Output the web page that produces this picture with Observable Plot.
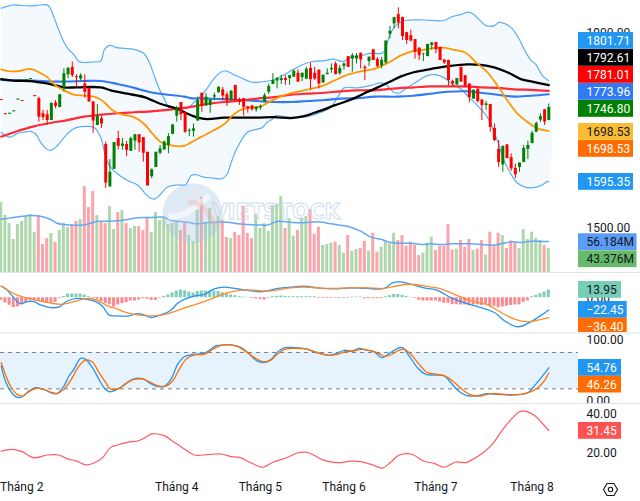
<!DOCTYPE html>
<html lang="vi">
<head>
<meta charset="utf-8">
<script src="https://cdn.jsdelivr.net/npm/d3@7"></script>
<script src="https://cdn.jsdelivr.net/npm/@observablehq/plot@0.6"></script>
<style>
html,body{margin:0;padding:0;background:#fff}
#chart{position:relative;width:640px;height:501px;overflow:hidden}
</style>
</head>
<body>
<div id="chart"></div>
<script>
// ---- candles (bar index = array position) ----
const opens = [1763,1734,1733,1738,1762,1761,1802,1804,1771,
1765,1734,1732,1720,1756,1747,1787,1814,1829,1810,1805,
1795,1786,1758,1710,1724,1671,1584,1620,1683,1667,
1671,1657,1678,1691,1685,1655,1605,1624,1653,1660,
1669,1692,1729,1757,1736,1698,1698,1719,1776,1750,
1751,1768,1777,1783,1773,1762,1792,1763,1765,1748,
1750,1742,1746,1758,1778,1794,1801,1802,1806,1806,
1809,1817,1808,1805,1827,1817,1823,1797,1814,1824,
1836,1816,1831,1851,1846,1846,1858,1829,1841,1865,
1845,1832,1838,1897,1918,1937,1931,1900,1894,1886,
1868,1856,1851,1874,1880,1870,1844,1843,1800,1793,
1829,1812,1795,1764,1784,1762,1751,1753,1704,1661,
1629,1670,1644,1622,1624,1634,1661,1673,1696,1721,1742,1720];
const closes = [1761,1732,1735,1740,1764,1759,1804,1806,1769,
1727,1726,1720,1755,1749,1773,1816,1827,1812,1808,1812,
1778,1758,1719,1729,1713,1592,1614,1675,1667,1672,
1659,1683,1691,1674,1653,1586,1619,1655,1662,1676,
1687,1711,1746,1732,1696,1700,1703,1761,1749,1768,
1762,1771,1788,1770,1760,1780,1761,1758,1747,1744,
1742,1747,1749,1771,1790,1802,1806,1806,1802,1812,
1821,1799,1817,1825,1804,1805,1795,1813,1817,1827,
1814,1827,1836,1829,1853,1852,1844,1826,1850,1843,
1831,1843,1883,1903,1931,1920,1892,1884,1883,1860,
1853,1857,1876,1879,1865,1843,1838,1802,1795,1806,
1799,1791,1767,1782,1759,1751,1754,1706,1679,1634,
1667,1642,1621,1609,1633,1663,1669,1694,1714,1728,1717,1746.8];
const highs = [1763,1734,1735,1740,1764,1761,1804,1806,1771,
1768,1741,1741,1756,1761,1773,1826,1829,1840,1814,1816,
1814,1787,1759,1753,1730,1676,1640,1675,1698,1683,
1677,1686,1691,1691,1685,1655,1621,1655,1669,1678,
1693,1711,1749,1757,1737,1703,1713,1768,1776,1775,
1763,1776,1790,1788,1778,1782,1792,1766,1765,1749,
1751,1749,1752,1775,1795,1816,1808,1813,1812,1812,
1824,1824,1817,1829,1838,1829,1824,1813,1826,1836,
1840,1833,1838,1851,1857,1857,1858,1833,1850,1866,
1849,1849,1883,1913,1932,1951,1932,1901,1905,1886,
1870,1858,1876,1880,1880,1870,1845,1844,1803,1806,
1829,1812,1795,1783,1785,1763,1759,1753,1713,1679,
1668,1671,1652,1631,1633,1669,1678,1698,1717,1734,1743,1754];
const lows = [1761,1732,1733,1738,1762,1759,1802,1804,1769,
1717,1720,1710,1720,1744,1746,1778,1806,1808,1787,1801,
1766,1758,1694,1710,1704,1581,1584,1620,1660,1659,
1646,1657,1659,1655,1635,1586,1601,1624,1650,1659,
1652,1691,1717,1720,1694,1687,1686,1719,1737,1749,
1735,1760,1776,1761,1749,1760,1758,1751,1729,1735,
1739,1737,1741,1758,1773,1794,1785,1794,1792,1792,
1808,1798,1800,1804,1783,1802,1785,1797,1814,1817,
1814,1813,1823,1829,1819,1836,1826,1802,1831,1843,
1828,1826,1836,1887,1908,1908,1884,1876,1881,1846,
1843,1841,1851,1864,1857,1843,1835,1791,1788,1792,
1798,1787,1756,1764,1756,1720,1741,1696,1677,1624,
1614,1642,1616,1601,1614,1634,1640,1672,1696,1716,1710,1720];
// ---- volume, millions ----
const volumes = [126.5,103,88.5,59.6,86.7,92.2,101.8,104.8,72.3,103,
50.6,61.4,70.5,54.2,75.9,89.1,81.3,86.7,92.2,95.8,
155.4,117.4,146.3,103,90.3,88.5,119.2,77.7,108.4,112,
88.5,79.5,83.1,83.1,75.9,99.4,72.3,108.4,94,99.4,
86.7,88.5,92.2,75.9,88.5,66.9,56,113.8,135.5,90.3,
115.6,88.5,101.2,94,63.3,61.4,72.3,66.9,119.2,70.5,
61.4,104.8,79.5,88.5,74.1,121,122.9,137.3,79.5,97,
65.7,75.9,98.2,101.2,113.8,69.3,81.9,48.8,50.6,53,
54.8,48.8,35,66.9,38.6,41.6,43.4,56,38.6,71,
36.8,45.8,56.6,51.8,71,57.8,66.9,47.6,54.8,48.8,
30.7,35,53,63.9,39.8,47.6,47.6,86.7,40.4,42.2,
57.8,45.8,59.6,39.8,42.2,57.8,31.4,72.9,47.6,71,
66.9,43.4,57.2,53.6,43.4,77.7,59.6,72.9,62,57.8,48.8,43.376];
const volumeMa = [[0,96.4],[2.2,98.8],[4.6,101.2],[7,103],[9.4,101.8],[11.8,95.8],[13.4,89],[15,86.7],[17.4,85.5],[19.8,86],[21.4,89],[23,92.6],[25.4,92.6],[27.8,93.4],[30.2,95.8],[32.6,98.8],[35,99.4],[37.4,100],[39,100],[40.6,94],[42.2,92.8],[44.6,91],[47,88],[49.4,90.3],[51.8,91.5],[54.2,91],[56.6,88],[59,86.7],[61.4,86],[63.8,86],[65.4,91],[66.6,92.8],[69.2,91],[71.6,89.8],[74,91],[76.4,91.5],[78.8,88],[81.2,85.5],[83.6,82],[86,74.7],[88.4,64],[90.8,60.2],[93.2,54.2],[95.6,53],[98,53],[100.4,50.6],[102.8,51.8],[105.2,50.6],[107.6,51.8],[110,51.8],[112.4,51.8],[114.8,50.6],[117.2,49.4],[119.6,51.8],[122,55.4],[124.4,54.2],[126.8,56.6],[129.2,56],[131,56.184]];
// ---- price overlays: [bar index, value] ----
const upperBand = [[0,1950],[1.4,1954],[3,1957],[4.6,1956],[7,1955],[8.6,1956],[11,1957],[11.8,1949],[12.6,1932],[13.8,1905],[15,1881],[16.2,1865],[17.4,1855],[18.6,1841],[19.8,1839],[21.8,1840],[23.8,1842],[24.6,1864],[25.4,1872],[26.2,1874],[27.4,1870],[29.4,1868],[31.8,1866],[34.2,1857],[35.4,1840],[36.6,1812],[37.8,1785],[39,1765],[40.2,1747],[42.2,1746],[44.6,1746],[46.2,1758],[48.9,1782],[50.9,1806],[52.5,1819],[53.7,1822],[55.7,1814],[58.1,1805],[59.7,1799],[62.1,1799],[64.5,1802],[67.7,1814],[70.1,1826],[72.5,1836],[74.5,1841],[77.3,1843],[79.7,1846],[81.7,1841],[83.7,1850],[86.1,1853],[88.5,1858],[91.3,1859],[92.5,1884],[93.1,1898],[94.7,1917],[96.3,1924],[97.9,1926],[101.1,1926],[105.9,1925],[107.9,1933],[109.9,1937],[111.9,1942],[113.1,1937],[114.7,1924],[115.9,1915],[117.9,1914],[119.1,1921],[120.7,1918],[122.3,1908],[123.9,1887],[125.5,1860],[126.7,1844],[127.9,1835],[129.5,1812],[131,1801.71]];
const lowerBand = [[0,1696],[1,1689],[2.2,1686],[3.8,1693],[5.4,1696],[7,1698],[8.2,1693],[9.4,1676],[10.6,1663],[11.8,1659],[13,1665],[15,1685],[16.2,1696],[17.8,1705],[19.8,1708],[22.2,1706],[23.8,1686],[25,1645],[26.2,1624],[27.8,1611],[30.2,1597],[32.6,1588],[34.2,1573],[35.4,1563],[36.6,1559],[37.8,1566],[39.8,1584],[42.2,1588],[44.2,1589],[45.4,1607],[46.6,1609],[48.5,1604],[50.9,1602],[52.9,1601],[54.1,1611],[54.9,1631],[56.5,1665],[58.9,1696],[60.5,1701],[62.5,1706],[63.7,1717],[64.9,1723],[65.7,1730],[68.5,1727],[71.7,1727],[74.1,1730],[76.5,1737],[78.9,1747],[80.5,1768],[82.1,1787],[85.3,1787],[88.5,1792],[90.9,1797],[92.3,1792],[93.9,1778],[95.1,1776],[97.1,1787],[99.5,1800],[101.9,1812],[103.9,1814],[105.9,1808],[107.9,1795],[109.9,1785],[111.9,1768],[113.9,1751],[116.3,1727],[118.7,1679],[120.3,1638],[121.9,1611],[123.5,1592],[125.5,1583],[128.3,1584],[130.7,1595],[131,1595.35]];
const orangeMa = [[0,1825],[1.4,1822],[3.8,1821],[7,1826],[9,1819],[11,1809],[13,1792],[15,1782],[17.4,1773],[19.8,1771],[22.6,1768],[24.6,1758],[26.6,1741],[29,1732],[31.8,1727],[34.2,1713],[36.2,1693],[38.2,1676],[40.6,1669],[43.8,1668],[46.2,1679],[47.7,1686],[50.9,1700],[53.7,1715],[55.3,1730],[57.3,1742],[59.7,1747],[62.1,1749],[64.1,1758],[66.5,1768],[69.3,1776],[72.5,1782],[76.5,1790],[79.7,1802],[82.9,1814],[86.1,1821],[89.3,1826],[93.1,1841],[95.5,1853],[98.3,1862],[101.1,1865],[103.9,1869],[106.3,1869],[108.3,1865],[111.1,1859],[113.5,1840],[116.3,1819],[118.7,1792],[121.1,1761],[123.5,1734],[125.9,1717],[128.3,1704],[131,1698.53]];
const blackMa = [[0,1805],[3,1802],[7,1801],[10.2,1797],[13,1792],[15,1788],[18.2,1788],[23.8,1788],[26.2,1782],[30.2,1775],[34.2,1768],[38.2,1754],[42.2,1744],[44.6,1734],[47,1726],[49.3,1723],[53.3,1726],[57.3,1726],[61.3,1726],[65.3,1727],[69.3,1725],[72.5,1729],[74.9,1736],[77.3,1743],[79.7,1751],[82.1,1758],[84.5,1766],[86.9,1776],[89.3,1785],[93.1,1800],[95.5,1810],[98.7,1819],[101.1,1823],[104.3,1828],[107.5,1832],[111.5,1835],[114.7,1834],[117.9,1829],[121.1,1819],[124.3,1805],[127.5,1799],[131,1792.61]];
const redMa = [[0,1687],[3.8,1698],[7.8,1708],[11.8,1715],[15.8,1721],[19.8,1728],[23.8,1732],[27.8,1735],[31.8,1737],[35.8,1739],[39.8,1742],[43.8,1746],[45.3,1748],[49.3,1754],[53.3,1758],[57.3,1761],[61.3,1765],[65.3,1768],[69.3,1773],[73.3,1775],[77.3,1777],[81.3,1780],[85.3,1782],[89.3,1782],[94.7,1786],[98.7,1788],[102.7,1790],[106.7,1790],[111.5,1790],[114.7,1788],[118.7,1787],[122.7,1784],[126.7,1783],[131,1781.01]];
const blueMa = [[0,1803],[3.8,1802],[7.8,1802],[11.8,1800],[15.8,1800],[19.8,1801],[23.8,1801],[27.8,1795],[31.8,1787],[35.8,1778],[39.8,1773],[43.8,1769],[45.3,1766],[49.3,1765],[53.3,1764],[57.3,1762],[61.3,1760],[65.3,1758],[69.3,1758],[73.3,1760],[77.3,1762],[81.3,1765],[85.3,1766],[89.3,1769],[94.7,1769],[98.7,1771],[102.7,1775],[106.7,1779],[111.5,1780],[114.7,1777],[118.7,1773],[122.7,1769],[126.7,1771],[131,1773.96]];
// ---- MACD ----
const macdHist = [-4.8,-9.6,-13.8,-18,-16.8,-13.2,-10.2,-6,-6,-6.6,
-9,-10.2,-9.6,-8.4,-1.8,2.4,6.6,6.6,6.6,6.6,
4.8,1.8,-1.8,-3.6,-7.2,-10.8,-13.2,-16.8,-13.2,-10.8,
-9,-6,-6,-4.2,-1.8,-3,-5.4,-4.8,-1.2,2.4,
4.8,8.4,12,13.8,12.6,10.2,8.4,11.4,12,12,
12,12,11.4,9,7.2,4.8,3.6,1.8,1.2,.6,
-1.2,-2.4,-3,-4.2,-1.2,1.8,2.4,3,2.4,1.8,
1.8,1.8,1.8,1.8,1.8,1.8,-1.2,-1.2,-1.2,-1.2,
-1.2,-1.2,-1.2,-1.2,1.2,1.2,1.2,-1.8,-1.8,-1.8,
-1.8,-1.8,1.8,3.6,6,6,4.2,2.4,.6,-1.2,
-4.8,-6,-6,-6,-6,-7.8,-10.2,-10.2,-12.6,-12.6,
-13.2,-13.2,-14.4,-13.2,-13.2,-14.4,-13.2,-15.6,-15.6,-18.6,
-16.8,-15.6,-14.4,-13.2,-13.2,-8.4,-6,1.8,4.2,7.2,10.2,13.95];
const macdLine = [[0,21],[1.4,13.8],[3,0],[4.6,-10.8],[6.2,-7.2],[7.8,-7.2],[9.4,-13.2],[11.8,-18],[13.8,-16.8],[15.8,-6],[18.2,-1.2],[20.6,-3],[22.6,-7.2],[24.2,-15],[25.8,-31.8],[27.4,-33],[30.6,-33],[32.6,-28.8],[34.2,-31.2],[35.8,-36],[38.2,-31.2],[40.6,-22.8],[42.2,-10.2],[43.8,-3],[46.2,3],[48.6,6],[51,16.2],[53.4,19.2],[55.8,16.8],[59,13.2],[62.2,10.8],[66.2,16.8],[69.2,19.2],[72.4,21],[75.6,18],[79.6,16.2],[83.6,18],[87.6,16.8],[91.6,16.8],[93.6,27],[95.6,28.8],[98,24.6],[101.2,18],[104.4,13.2],[107.6,0],[110.8,-9.6],[114.8,-18],[118,-27],[120.4,-42],[123.6,-52.8],[126,-46.8],[128.4,-36],[131,-22.45]];
const macdSignal = [[0,21],[1.4,15],[3.4,6],[5.8,0],[8.6,-4.8],[11.4,-9],[14.2,-12],[17.4,-7.2],[20.6,-1.2],[23,-4.8],[25.4,-15],[27.4,-19.2],[29.4,-25.8],[32.6,-31.2],[35.8,-33],[38.2,-31.8],[41.4,-25.2],[44.6,-16.8],[47.8,-9],[51,0],[54.2,9],[57.4,13.8],[60.6,13.8],[63.8,12],[69.2,18],[72.4,19.2],[75.6,18],[79.6,16.8],[83.6,18],[87.6,18],[91.6,16.8],[94,20.4],[96.4,24],[98.8,24],[102,20.4],[105.2,16.2],[108.4,6],[112.4,-6],[116.4,-13.2],[119.6,-27],[122.8,-39],[126,-43.8],[128.4,-40.8],[131,-36.4]];
// ---- stochastic ----
const stochK = [[0,57.6],[1,33],[2.2,16.5],[3.8,6],[5,6.6],[6.6,16.5],[8.2,22],[10.2,19.2],[11.8,13.7],[13.4,12.1],[15,24.7],[16.2,41.2],[17.4,52.2],[19,70.3],[20.2,68.6],[21.8,54.9],[23.4,35.7],[24.6,22],[25.8,15.4],[27.8,19.2],[29.8,28.6],[31.4,35.7],[33.8,36.8],[35.4,30.2],[37,24.7],[39,24.2],[40.6,35.7],[42.2,60.4],[43.8,73],[45.8,76.9],[48.2,78],[49.8,83.5],[51.4,91.1],[53.4,92.2],[55.4,92.2],[57.4,87.9],[59.4,76.9],[61,67],[62.6,63.1],[64.6,68.6],[66.2,81.3],[67.8,87.9],[70.2,87.9],[73,85.7],[75,80.7],[76.4,78],[78.4,75.2],[80,78],[82,83.5],[84,82.4],[85.6,86.8],[87.2,84],[89.2,81.3],[91,71.4],[92.8,78],[94.4,85.1],[96,87.9],[97.6,74.1],[99.6,54.9],[101.6,43.9],[104,42.8],[106,41.2],[107.6,30.2],[109.2,17.6],[111.2,9.3],[113.6,8.2],[116,12.1],[118.8,11],[122,9.9],[126,13.7],[128,28.6],[129.6,42.3],[131,54.76]];
const stochD = [[0,63.1],[1,43.9],[2.2,24.7],[3.8,11],[5,8.2],[6.6,14.8],[8.2,20.9],[10.2,19.2],[11.8,14.8],[13.4,12.6],[15,19.2],[17,38.4],[18.6,57.6],[20.2,67.5],[21.8,64.2],[23.4,46.7],[25,30.2],[26.2,19.2],[28.2,20.9],[30.2,30.2],[31.8,35.7],[34.2,35.7],[35.8,30.2],[37.8,24.7],[39.4,24.7],[41,33],[42.6,52.2],[44.2,68.6],[46.2,75.8],[48.6,76.9],[50.6,85.1],[52.6,91.7],[54.6,92.8],[56.6,89.5],[58.6,81.3],[60.6,71.4],[62.6,64.8],[64.2,65.9],[65.8,75.2],[67.8,85.1],[70.2,86.8],[73,85.7],[75,81.3],[76.4,78],[78.4,75.2],[80.4,76.9],[82.4,81.3],[84.4,82.4],[86.4,85.1],[88.4,82.4],[90.4,78],[91.6,73.6],[93.2,75.8],[94.8,82.4],[96.4,85.1],[98,76.9],[100,60.4],[102,46.7],[104.4,43.9],[106.2,41.2],[108,33],[110,20.9],[112,11],[114.4,8.2],[117.2,12.1],[120.4,11],[123.6,10.4],[126.4,14.8],[128.4,22],[130,34],[131,46.26]];
// ---- bottom oscillator ----
const oscillator = [[0,20.8],[2.6,21.8],[5,20.6],[7.8,17.4],[11,18.9],[13.8,18.9],[15.8,16.9],[17.8,16],[20.2,13.8],[22.2,14.8],[24.2,17.4],[26.2,22.8],[27.8,24],[30.2,25.4],[33,26.3],[36.2,29.7],[39,28.8],[41.4,25.4],[43.8,22],[46.2,18.9],[49.4,19.1],[52.6,19.4],[55,18.1],[57,17.7],[59.8,14.8],[62.6,12.6],[65,15.2],[68.6,17.7],[70.6,19.8],[73,20.3],[75.4,18.1],[76.4,16.9],[78.4,15.5],[81.2,15],[83.6,15.7],[86,15.5],[88.8,13.8],[91.2,12.2],[93.2,15.2],[95.2,18.9],[98,19.4],[101.2,15.7],[103.6,14.6],[106,12.6],[108.8,15.3],[111.2,15],[114,18.1],[117.2,23.7],[120.4,33.1],[124,41.1],[125.6,41.3],[127.6,39.1],[129.6,34.8],[131,31.45]];
// ---- labels ----
const monthLabels = ["Tháng 2","Tháng 4","Tháng 5","Tháng 6","Tháng 7","Tháng 8"];
const monthBars = [4.9,42,62,82,104,127];
const priceTicks = [1500,1900];
const macdTicks = [0];
const stochTicks = [0,100];
const oscTicks = [20,40];
const tagTexts = ["1801.71","1792.61","1781.01","1773.96","1746.80","1698.53","1698.53","1595.35","56.184M","43.376M","13.95","−22.45","−36.40","54.76","46.26","31.45"];
const tagFills = ["#2196f3","#000000","#ff0000","#3179f5","#008000","#fbbc31","#ff6d00","#2196f3","#5b9cf6","#66bb6a","#76ceb9","#2196f3","#ff6d00","#2196f3","#ff6d00","#ff5252"];
const tagInks = ["#fff","#fff","#fff","#fff","#fff","#131722","#fff","#fff","#131722","#131722","#131722","#fff","#fff","#fff","#fff","#fff"];
const tagTops = [32,49,66,83,100,123,140,173,233.3,250.3,281,301,317.7,359,375.7,422];
// watermark strokes, in bar index / volume units
const markWhite = [[40.5,100],[44.5,109],[49.3,136]];
const markPink = [[45.3,127],[47.7,121],[51,88]];

// ---- chart ----
const UP = "#008000", DOWN = "#ff0000", FONT = "Roboto, sans-serif";
const root = document.getElementById("chart");
const bars = opens.map((o, i) => ({i, o, h: highs[i], l: lows[i], c: closes[i], v: volumes[i], m: macdHist[i]}));
const barUp = d => d.c >= d.o;
const xDomain = [-0.17, 138.11];
const lineOf = (data, stroke, strokeWidth) => Plot.line(data, {x: d => d[0], y: d => d[1], stroke, strokeWidth, curve: "catmull-rom"});

function pane(top, height, yDomain, ticks, marks) {
  const axis = ticks ? [Plot.axisY(ticks, {anchor: "right", tickSize: 0, tickPadding: 8, label: null, fontSize: 12, fill: "#131722", tickFormat: d => d.toFixed(2)})] : [];
  root.append(Plot.plot({
    width: 640, height, marginLeft: 0, marginRight: 62, marginTop: 0, marginBottom: 0,
    x: {domain: xDomain, axis: null},
    y: {domain: yDomain, axis: null},
    style: {position: "absolute", left: 0, top: top + "px", background: "none", fontFamily: FONT, fontSize: "12px", maxWidth: "none"},
    marks: [...marks, ...axis]
  }));
}

// volume + watermark layer
pane(0, 272, [0, 491.9], null, [
  Plot.rectY(bars, {x1: d => d.i - 0.36, x2: d => d.i + 0.36, y1: () => 0, y2: "v", fill: d => (d.i < 9 || barUp(d)) ? "#aed8ab" : "#fca4ab"}),
  lineOf(volumeMa, "#64a8f5", 1.5),
  Plot.dot([0], {x: () => 45.8, y: () => 107, r: 30, fill: "#a8c6e0", fillOpacity: 0.36}),
  Plot.line(markWhite, {x: d => d[0], y: d => d[1], stroke: "#fff", strokeWidth: 6, strokeOpacity: 0.55, curve: "catmull-rom"}),
  Plot.line(markPink, {x: d => d[0], y: d => d[1], stroke: "#f5a9a0", strokeWidth: 5, strokeOpacity: 0.35, curve: "catmull-rom"}),
  Plot.text(["VIETSTOCK"], {x: () => 51.6, y: () => 108, dx: -5, text: d => d, textAnchor: "start", fontSize: 20.5, fontWeight: "bold", fill: "none", stroke: "#c3d7e9", strokeWidth: 1, opacity: 0.8, fontFamily: "'DejaVu Sans'"})
]);

// price layer
pane(0, 272, [1408.7, 1966], priceTicks, [
  Plot.line([...upperBand, ...lowerBand.slice().reverse()], {x: d => d[0], y: d => d[1], fill: "#f4f9fd", stroke: "none", curve: "catmull-rom"}),
  lineOf(upperBand, "#5aaef5", 1.2),
  lineOf(lowerBand, "#5aaef5", 1.2),
  lineOf(blueMa, "#3179f5", 2.1),
  lineOf(redMa, "#ff2b36", 2.2),
  lineOf(blackMa, "#000", 2.3),
  lineOf(orangeMa, "#ff9800", 1.8),
  Plot.ruleX(bars, {x: "i", y1: "l", y2: "h", stroke: d => barUp(d) ? UP : DOWN, strokeWidth: 1}),
  Plot.ruleX(bars, {x: "i", y1: "o", y2: "c", stroke: d => barUp(d) ? UP : DOWN, strokeWidth: 3})
]);

// MACD
pane(272.5, 60, [-65.1, 44], macdTicks, [
  Plot.rectY(bars, {x1: d => d.i - 0.36, x2: d => d.i + 0.36, y1: () => 0, y2: "m", fill: d => d.m >= 0 ? "#7fccbb" : "#f98b90"}),
  lineOf(macdLine, "#2196f3", 1.3),
  lineOf(macdSignal, "#ff8a2b", 1.3)
]);

// Stochastic
pane(332.5, 70.5, [-4.9, 111.2], stochTicks, [
  Plot.rect([0], {x1: () => xDomain[0], x2: () => xDomain[1], y1: () => 20, y2: () => 80, fill: "#e6f3fd"}),
  Plot.ruleY([20, 80], {stroke: "#787b86", strokeDasharray: "4,4", strokeWidth: 1}),
  lineOf(stochK, "#2196f3", 1.3),
  lineOf(stochD, "#ff6d00", 1.3)
]);

// bottom oscillator
pane(403, 70, [9.4, 45.3], oscTicks, [lineOf(oscillator, "#ff5a60", 1.2)]);

// month axis
pane(473, 28, [0, 1], null, [
  Plot.text(monthLabels, {x: (d, i) => monthBars[i], text: d => d, frameAnchor: "middle", fontSize: 12, fill: "#131722"})
]);

// overlay: price tags, separators, settings icon (screen coordinates)
const tags = tagTexts.map((text, i) => ({text, fill: tagFills[i], ink: tagInks[i], y0: tagTops[i]}));
const tagWidth = d => d.text.length >= 7 ? (d.text.endsWith("M") ? 58.5 : 55) : d.text.length === 6 ? 48.7 : 43;
const hexagon = d3.range(7).map(k => [610 + 7 * Math.cos(k * Math.PI / 3), 489 + 7 * Math.sin(k * Math.PI / 3)]);
root.append(Plot.plot({
  width: 640, height: 501, margin: 0,
  x: {type: "identity", axis: null}, y: {type: "identity", axis: null},
  style: {position: "absolute", left: 0, top: 0, background: "none", fontFamily: FONT, maxWidth: "none"},
  marks: [
    Plot.rect(tags, {x1: () => 578, x2: d => 578 + tagWidth(d), y1: "y0", y2: d => Math.min(d.y0 + 16.8, d.text === "−36.40" ? 332 : 999), fill: "fill"}),
    Plot.text(tags, {x: () => 586, y: d => d.y0 + 8.6, text: "text", fill: "ink", textAnchor: "start", fontSize: 12}),
    Plot.ruleY([272, 332.5, 403], {stroke: "#e0e3eb", strokeWidth: 1.2}),
    Plot.line(hexagon, {x: d => d[0], y: d => d[1], stroke: "#131722", strokeWidth: 1.1}),
    Plot.dot([0], {x: () => 610, y: () => 489, r: 2.2, stroke: "#131722", strokeWidth: 1.1})
  ]
}));
</script>
</body>
</html>
